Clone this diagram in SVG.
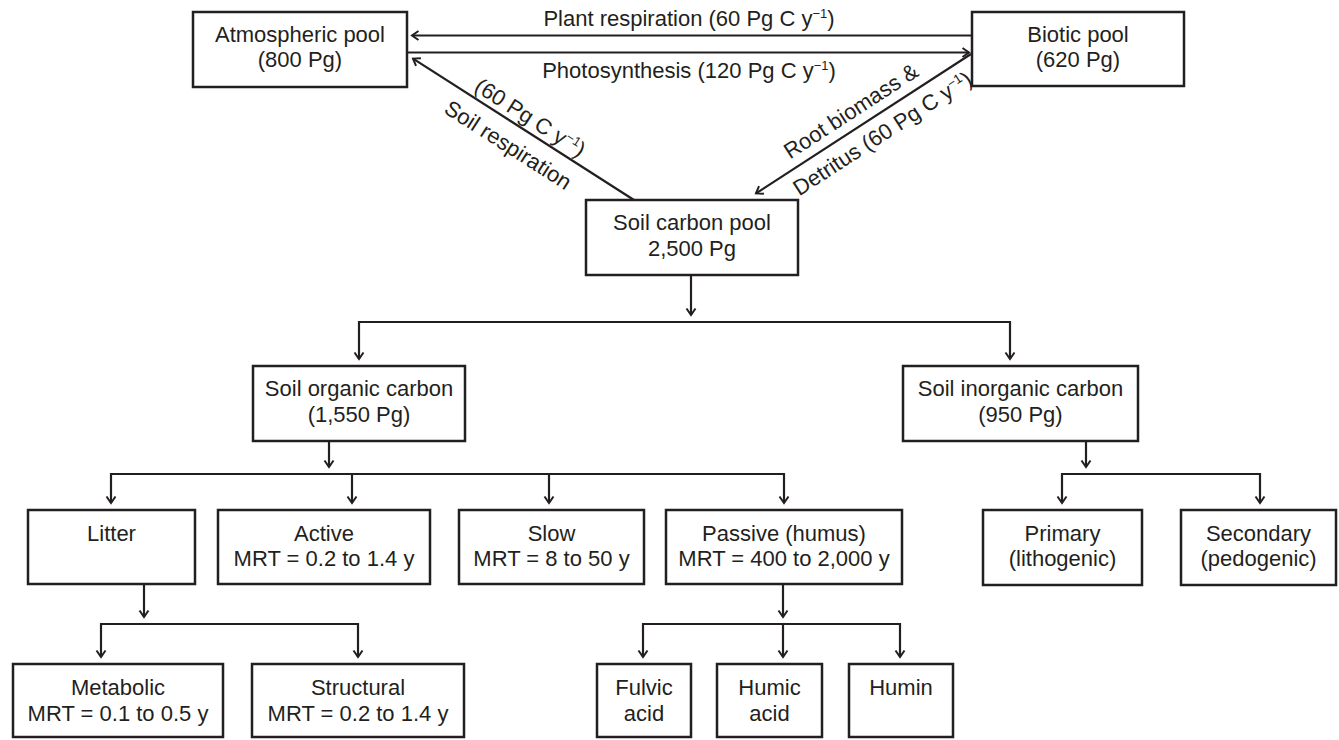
<svg xmlns="http://www.w3.org/2000/svg" width="1339" height="740" viewBox="0 0 1339 740">
<style>
  .box { fill: #fff; stroke: #231f20; stroke-width: 2.5; }
  .t { font-family: "Liberation Sans", Arial, sans-serif; font-size: 22px; fill: #231f20; text-anchor: middle; }
  .c { fill: none; stroke: #231f20; stroke-width: 2.2; }
  .a { marker-end: url(#arr); }
</style>
<defs>
  <marker id="arr" viewBox="-10 -6 12 12" refX="0" refY="0" markerWidth="12" markerHeight="12" markerUnits="userSpaceOnUse" orient="auto">
    <path d="M -6.5 -4.5 L 0 0 L -6.5 4.5" fill="none" stroke="#231f20" stroke-width="2" stroke-linejoin="miter"/>
  </marker>
</defs>
<rect width="1339" height="740" fill="#fff"/>

<g id="connectors">
  <path class="c a" d="M972,35.5 H412"/>
  <path class="c a" d="M407,52.5 H969"/>
  <path class="c a" d="M634,200 L413,58.6"/>
  <path class="c a" d="M971,54 L756,193.4"/>
  <path class="c a" d="M691,275 V315"/>
  <path class="c" d="M359,322 H1010"/>
  <path class="c a" d="M359,321 V359"/>
  <path class="c a" d="M1010,321 V359"/>
  <path class="c a" d="M329,441 V467"/>
  <path class="c" d="M111,474 H784"/>
  <path class="c a" d="M111,473 V503"/>
  <path class="c a" d="M352,474 V503"/>
  <path class="c a" d="M549,474 V503"/>
  <path class="c a" d="M784,473 V503"/>
  <path class="c a" d="M1086,441 V467"/>
  <path class="c" d="M1062,474 H1260"/>
  <path class="c a" d="M1062,473 V503"/>
  <path class="c a" d="M1260,473 V503"/>
  <path class="c a" d="M144,584 V617"/>
  <path class="c" d="M101,624 H358"/>
  <path class="c a" d="M101,623 V657"/>
  <path class="c a" d="M358,623 V657"/>
  <path class="c a" d="M783,584 V617"/>
  <path class="c" d="M643,624 H900"/>
  <path class="c a" d="M643,623 V657"/>
  <path class="c a" d="M783,624 V657"/>
  <path class="c a" d="M900,623 V657"/>
</g>

<g id="edge-labels">
  <text class="t" x="689" y="26">Plant respiration (60 Pg C y<tspan font-size="13" dy="-8">−1</tspan><tspan dy="8">)</tspan></text>
  <text class="t" x="689" y="78">Photosynthesis (120 Pg C y<tspan font-size="13" dy="-8">−1</tspan><tspan dy="8">)</tspan></text>
  <text class="t" transform="translate(523,129) rotate(32.6)" x="0" y="-6">(60 Pg C y<tspan font-size="13" dy="-8">−1</tspan><tspan dy="8">)</tspan></text>
  <text class="t" transform="translate(523,129) rotate(32.6)" x="-4" y="29">Soil respiration</text>
  <text class="t" transform="translate(863,124) rotate(-33)" x="-3" y="-10">Root biomass &amp;</text>
  <text class="t" transform="translate(863,124) rotate(-33)" x="11" y="26">Detritus (60 Pg C y<tspan font-size="13" dy="-8">−1</tspan><tspan dy="8">)</tspan></text>
</g>

<g id="atmospheric">
  <rect class="box" x="193" y="12" width="214" height="75"/>
  <text class="t" x="300" y="42">Atmospheric pool</text>
  <text class="t" x="300" y="67">(800 Pg)</text>
</g>
<g id="biotic">
  <rect class="box" x="972" y="12" width="212" height="74"/>
  <text class="t" x="1078" y="42">Biotic pool</text>
  <text class="t" x="1078" y="67">(620 Pg)</text>
</g>
<g id="soil-carbon-pool">
  <rect class="box" x="586" y="200" width="212" height="75"/>
  <text class="t" x="692" y="230">Soil carbon pool</text>
  <text class="t" x="692" y="256">2,500 Pg</text>
</g>
<g id="soil-organic-carbon">
  <rect class="box" x="253" y="366" width="212" height="75"/>
  <text class="t" x="359" y="396">Soil organic carbon</text>
  <text class="t" x="359" y="422">(1,550 Pg)</text>
</g>
<g id="soil-inorganic-carbon">
  <rect class="box" x="903" y="366" width="235" height="75"/>
  <text class="t" x="1020.5" y="396">Soil inorganic carbon</text>
  <text class="t" x="1020.5" y="422">(950 Pg)</text>
</g>
<g id="litter">
  <rect class="box" x="28" y="510" width="167" height="74"/>
  <text class="t" x="111.5" y="541">Litter</text>
</g>
<g id="active">
  <rect class="box" x="218" y="510" width="212" height="74"/>
  <text class="t" x="324" y="541">Active</text>
  <text class="t" x="324" y="566">MRT = 0.2 to 1.4 y</text>
</g>
<g id="slow">
  <rect class="box" x="459" y="510" width="185" height="74"/>
  <text class="t" x="551.5" y="541">Slow</text>
  <text class="t" x="551.5" y="566">MRT = 8 to 50 y</text>
</g>
<g id="passive">
  <rect class="box" x="666" y="510" width="236" height="74"/>
  <text class="t" x="784" y="541">Passive (humus)</text>
  <text class="t" x="784" y="566">MRT = 400 to 2,000 y</text>
</g>
<g id="primary">
  <rect class="box" x="983" y="510" width="159" height="75"/>
  <text class="t" x="1062.5" y="541">Primary</text>
  <text class="t" x="1062.5" y="566">(lithogenic)</text>
</g>
<g id="secondary">
  <rect class="box" x="1181" y="510" width="155" height="75"/>
  <text class="t" x="1258.5" y="541">Secondary</text>
  <text class="t" x="1258.5" y="566">(pedogenic)</text>
</g>
<g id="metabolic">
  <rect class="box" x="13" y="664" width="210" height="73"/>
  <text class="t" x="118" y="695">Metabolic</text>
  <text class="t" x="118" y="721">MRT = 0.1 to 0.5 y</text>
</g>
<g id="structural">
  <rect class="box" x="252" y="664" width="212" height="73"/>
  <text class="t" x="358" y="695">Structural</text>
  <text class="t" x="358" y="721">MRT = 0.2 to 1.4 y</text>
</g>
<g id="fulvic">
  <rect class="box" x="597" y="664" width="94" height="73"/>
  <text class="t" x="644" y="695">Fulvic</text>
  <text class="t" x="644" y="721">acid</text>
</g>
<g id="humic">
  <rect class="box" x="717" y="664" width="105" height="73"/>
  <text class="t" x="769.5" y="695">Humic</text>
  <text class="t" x="769.5" y="721">acid</text>
</g>
<g id="humin">
  <rect class="box" x="849" y="664" width="104" height="73"/>
  <text class="t" x="901" y="695">Humin</text>
</g>
</svg>
